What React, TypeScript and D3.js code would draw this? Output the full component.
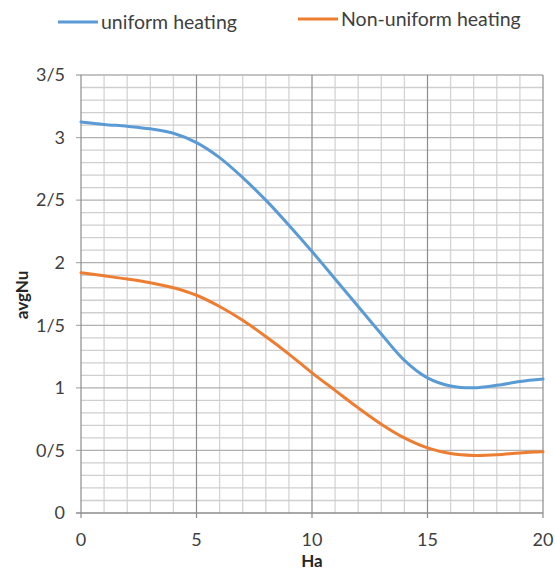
import React, { useRef, useEffect } from "react";
import * as d3 from "d3";

// Ha values and the two average Nusselt series
const haValues = [0, 1, 2, 3, 4, 5, 6, 7, 8, 9, 10, 11, 12, 13, 14, 15, 16, 17, 18, 19, 20];
const uniformNu = [3.125, 3.105, 3.09, 3.07, 3.035, 2.96, 2.84, 2.68, 2.5, 2.3, 2.09, 1.87, 1.65, 1.43, 1.22, 1.08, 1.015, 1.0, 1.02, 1.05, 1.07];
const nonUniformNu = [1.92, 1.895, 1.87, 1.84, 1.8, 1.74, 1.65, 1.54, 1.41, 1.27, 1.12, 0.98, 0.84, 0.71, 0.6, 0.52, 0.475, 0.46, 0.465, 0.48, 0.49];
const seriesNames = ["uniform heating", "Non-uniform heating"];
const seriesColors = ["#5b9bd5", "#ed7d31"];
const yTickValues = [0, 0.5, 1, 1.5, 2, 2.5, 3, 3.5];
const yTickLabels = ["0", "0/5", "1", "1/5", "2", "2/5", "3", "3/5"];
const xTickValues = [0, 5, 10, 15, 20];

const W = 555;
const H = 576;
const font = "Lato, 'Open Sans', sans-serif";

function App() {
  const svgRef = useRef<SVGSVGElement>(null);

  useEffect(() => {
    const svg = d3.select(svgRef.current);
    svg.selectAll("*").remove();

    const left = 81, right = 543, top = 75, bottom = 513;
    const x = d3.scaleLinear().domain([0, 20]).range([left, right]);
    const y = d3.scaleLinear().domain([0, 3.5]).range([bottom, top]);

    const grid = svg.append("g");
    // minor grid
    d3.range(0, 20.001, 1).forEach((v) => {
      if (v % 5 === 0) return;
      grid.append("line").attr("x1", x(v)).attr("x2", x(v)).attr("y1", top).attr("y2", bottom)
        .attr("stroke", "#d4d4d4").attr("stroke-width", 1.3);
    });
    d3.range(0, 35.001, 1).forEach((i) => {
      if (i % 5 === 0) return;
      const v = i / 10;
      grid.append("line").attr("x1", left).attr("x2", right).attr("y1", y(v)).attr("y2", y(v))
        .attr("stroke", "#cfcfcf").attr("stroke-width", 1.3);
    });
    // major grid
    yTickValues.forEach((v) => {
      grid.append("line").attr("x1", left - 5).attr("x2", right).attr("y1", y(v)).attr("y2", y(v))
        .attr("stroke", v === 0 ? "#8c8c8c" : "#b0b0b0").attr("stroke-width", 1.3);
    });
    xTickValues.forEach((v) => {
      grid.append("line").attr("x1", x(v)).attr("x2", x(v)).attr("y1", top).attr("y2", bottom + 5)
        .attr("stroke", "#8c8c8c").attr("stroke-width", 1.2);
    });

    // tick labels
    yTickValues.forEach((v, i) => {
      svg.append("text").attr("x", left - 16).attr("y", y(v)).attr("dy", "0.35em")
        .attr("text-anchor", "end").attr("font-family", font).attr("font-size", 18)
        .attr("fill", "#404040").text(yTickLabels[i]);
    });
    xTickValues.forEach((v) => {
      svg.append("text").attr("x", x(v)).attr("y", 540).attr("dy", "0.35em")
        .attr("text-anchor", "middle").attr("font-family", font).attr("font-size", 18)
        .attr("fill", "#404040").text(v);
    });

    // axis titles
    svg.append("text").attr("x", 312).attr("y", 567).attr("text-anchor", "middle")
      .attr("font-family", font).attr("font-size", 17).attr("font-weight", "bold")
      .attr("fill", "#262626").text("Ha");
    svg.append("text").attr("transform", "translate(22,295) rotate(-90)").attr("text-anchor", "middle")
      .attr("dy", "0.35em").attr("font-family", font).attr("font-size", 17).attr("font-weight", "bold")
      .attr("fill", "#262626").text("avgNu");

    // series lines
    const line = d3.line<[number, number]>()
      .x((d) => x(d[0]))
      .y((d) => y(d[1]))
      .curve(d3.curveCatmullRom.alpha(0.5));
    [uniformNu, nonUniformNu].forEach((vals, i) => {
      svg.append("path")
        .attr("d", line(haValues.map((h, j) => [h, vals[j]] as [number, number])))
        .attr("fill", "none").attr("stroke", seriesColors[i]).attr("stroke-width", 3)
        .attr("stroke-linecap", "round");
    });

    // legend
    const legendPos = [{ x: 58, y: 22 }, { x: 298, y: 19 }];
    seriesNames.forEach((name, i) => {
      const p = legendPos[i];
      svg.append("line").attr("x1", p.x).attr("x2", p.x + 40).attr("y1", p.y).attr("y2", p.y)
        .attr("stroke", seriesColors[i]).attr("stroke-width", 3);
      svg.append("text").attr("x", p.x + 43).attr("y", p.y).attr("dy", "0.35em")
        .attr("font-family", font).attr("font-size", 19.5).attr("fill", "#404040").text(name);
    });
  }, []);

  return (
    <svg ref={svgRef} width={W} height={H}
      style={{ position: "absolute", left: 0, top: 0, background: "#fff" }} />
  );
}

export default App;
